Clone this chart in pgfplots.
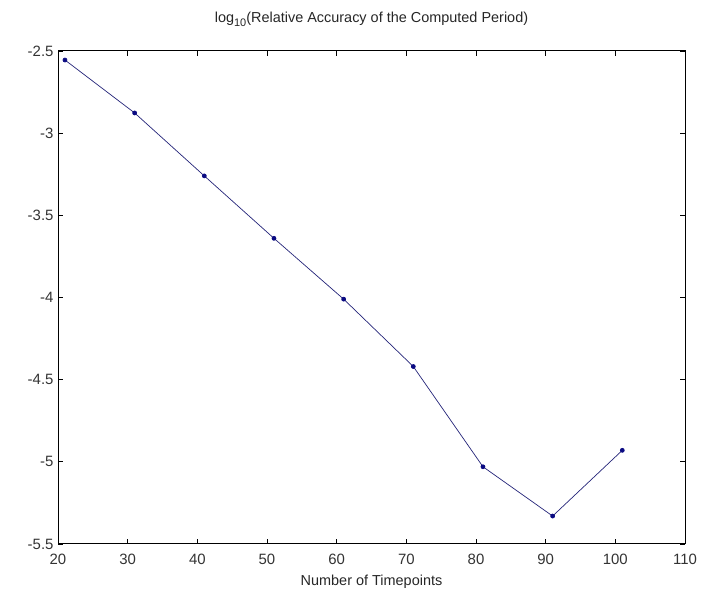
\documentclass[border=0pt]{standalone}
\usepackage{fontspec}
\setmainfont{Liberation Sans}
\usepackage{pgfplots}
\pgfplotsset{compat=1.18}
\definecolor{mline}{RGB}{35,35,120}
\definecolor{mmark}{RGB}{10,10,130}
\begin{document}
\begin{tikzpicture}[x=1bp,y=1bp]
\path[use as bounding box] (0,0) rectangle (704,600);
\begin{axis}[
  at={(58bp,56bp)}, anchor=south west,
  width=627bp, height=493bp, scale only axis,
  xmin=20, xmax=110, ymin=-5.5, ymax=-2.5,
  xtick={20,30,...,110},
  ytick={-5.5,-5,...,-2.5},
  yticklabels={-5.5,-5,-4.5,-4,-3.5,-3,-2.5},
  tick align=inside,
  major tick length=5bp,
  tick style={black, line width=0.8pt},
  axis line style={black, line width=1pt},
  /pgf/number format/assume math mode=true,
  ticklabel style={font=\fontsize{15}{17}\selectfont, text=black!80},
  xticklabel style={yshift=-7bp},
  yticklabel style={xshift=-1bp},
  title={log{\raisebox{-0.55ex}{\fontsize{11}{11}\selectfont 10}}(Relative Accuracy of the Computed Period)},
  title style={font=\fontsize{14.5}{16}\selectfont, at={(0.5,1)}, yshift=15bp, text=black!85},
  xlabel={Number of Timepoints},
  xlabel style={font=\fontsize{14.5}{16}\selectfont, yshift=-3bp, text=black!85},
]
\addplot[color=mline, line width=0.7pt, mark=*, mark size=2pt,
  mark options={fill=mmark, draw=mmark}] coordinates {
  (21,-2.555) (31,-2.877) (41,-3.26) (51,-3.64) (61,-4.01)
  (71,-4.42) (81,-5.03) (91,-5.33) (101,-4.93)
};
\end{axis}
\end{tikzpicture}
\end{document}
